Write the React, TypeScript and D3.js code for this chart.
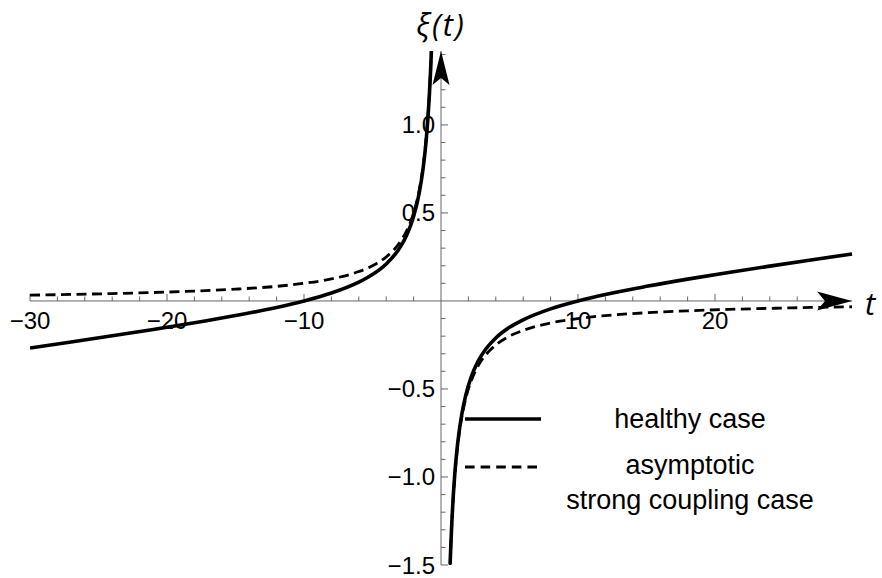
import React, { useEffect, useRef } from "react";
import * as d3 from "d3";

// values
const leftT = [-30, -27, -24, -21, -18, -15, -12, -10, -8, -6, -5, -4, -3, -2.5, -2, -1.6, -1.3, -1.1, -0.95, -0.85, -0.77, -0.7];
const rightT = [0.667, 0.72, 0.8, 0.9, 1.0, 1.15, 1.3, 1.5, 1.8, 2.2, 2.7, 3.3, 4, 5, 6, 8, 10, 12, 15, 18, 21, 24, 27, 30];

const healthyLeft = [-0.267, -0.233, -0.198, -0.162, -0.124, -0.083, -0.037, 0, 0.045, 0.107, 0.15, 0.21, 0.303, 0.375, 0.48, 0.609, 0.756, 0.898, 1.043, 1.168, 1.291, 1.422];
const healthyRight = [-1.493, -1.382, -1.242, -1.102, -0.99, -0.858, -0.756, -0.652, -0.538, -0.433, -0.343, -0.27, -0.21, -0.15, -0.107, -0.045, 0, 0.037, 0.083, 0.124, 0.162, 0.198, 0.233, 0.267];

const asympLeft = [0.033, 0.037, 0.042, 0.048, 0.056, 0.067, 0.083, 0.1, 0.125, 0.167, 0.2, 0.25, 0.333, 0.4, 0.5, 0.625, 0.769, 0.909, 1.053, 1.176, 1.299, 1.429];
const asympRight = [-1.5, -1.389, -1.25, -1.111, -1.0, -0.87, -0.769, -0.667, -0.556, -0.455, -0.37, -0.303, -0.25, -0.2, -0.167, -0.125, -0.1, -0.083, -0.067, -0.056, -0.048, -0.042, -0.037, -0.033];

const xMajor = [-30, -20, -10, 10, 20];
const yMajor = [-1.5, -1.0, -0.5, 0.5, 1.0];
const yLabels = ["\u22121.5", "\u22121.0", "\u22120.5", "0.5", "1.0"];
const legendLabels = ["healthy case", "asymptotic", "strong coupling case"];

function App() {
  const ref = useRef<SVGSVGElement>(null);

  useEffect(() => {
    const svg = d3.select(ref.current);
    svg.selectAll("*").remove();

    const x = d3.scaleLinear().domain([-30, 30]).range([30, 852]);
    const y = d3.scaleLinear().domain([-1.5, 1.42]).range([565, 51]);
    const font = "'Liberation Sans', Arial, sans-serif";
    const axisColor = "#666";

    svg.append("defs").append("clipPath").attr("id", "plotclip")
      .append("rect")
      .attr("x", x(-30)).attr("y", y(1.42))
      .attr("width", x(30.3) - x(-30)).attr("height", y(-1.5) - y(1.42));

    // axes
    const ax = svg.append("g");
    ax.append("line")
      .attr("x1", x(-30)).attr("x2", x(30)).attr("y1", y(0)).attr("y2", y(0))
      .attr("stroke", axisColor);
    ax.append("line")
      .attr("x1", x(0)).attr("x2", x(0)).attr("y1", y(-1.5)).attr("y2", y(1.42))
      .attr("stroke", axisColor);

    // x ticks (every 2, labelled every 10)
    const xMinor = d3.range(-30, 30, 2).filter((v) => v !== 0);
    ax.selectAll("line.xt").data(xMinor).enter().append("line")
      .attr("x1", (d) => x(d)).attr("x2", (d) => x(d))
      .attr("y1", y(0))
      .attr("y2", (d) => y(0) - (xMajor.includes(d) ? 7 : 4.5))
      .attr("stroke", axisColor);
    ax.selectAll("text.xl").data(xMajor).enter().append("text")
      .attr("x", (d) => x(d)).attr("y", y(0) + 28)
      .attr("text-anchor", "middle")
      .attr("font-family", font).attr("font-size", 24)
      .text((d) => (d < 0 ? "\u2212" + Math.abs(d) : String(d)));

    // y ticks (every 0.1)
    const yMinor = d3.range(-15, 15).filter((v) => v !== 0).map((v) => v / 10);
    ax.selectAll("line.yt").data(yMinor).enter().append("line")
      .attr("x1", x(0))
      .attr("x2", (d) => x(0) + (Math.abs(d * 2 - Math.round(d * 2)) < 1e-6 ? 7 : 4.5))
      .attr("y1", (d) => y(d)).attr("y2", (d) => y(d))
      .attr("stroke", axisColor);
    ax.selectAll("text.yl").data(yMajor).enter().append("text")
      .attr("x", x(0) - 6).attr("y", (d) => y(d) + 8.5)
      .attr("text-anchor", "end")
      .attr("font-family", font).attr("font-size", 24)
      .text((d, i) => yLabels[i]);

    // curves
    const line = d3.line<[number, number]>()
      .x((d) => x(d[0])).y((d) => y(d[1]))
      .curve(d3.curveMonotoneX);
    const plot = svg.append("g").attr("clip-path", "url(#plotclip)");
    const series = [
      { t: leftT, v: healthyLeft, dash: null, w: 3.6 },
      { t: rightT, v: healthyRight, dash: null, w: 3.6 },
      { t: leftT, v: asympLeft, dash: "10,5.5", w: 2.8 },
      { t: rightT, v: asympRight, dash: "10,5.5", w: 2.8 },
    ];
    series.forEach((s) => {
      plot.append("path")
        .attr("d", line(s.t.map((t, i) => [t, s.v[i]] as [number, number])))
        .attr("fill", "none").attr("stroke", "#000")
        .attr("stroke-width", s.w)
        .attr("stroke-dasharray", s.dash);
    });

    // arrowheads
    const xt = x(30), yt = y(0);
    svg.append("path")
      .attr("d", `M${xt},${yt} L${xt - 35},${yt - 9.5} L${xt - 27},${yt} L${xt - 35},${yt + 9.5} Z`)
      .attr("fill", "#000");
    const ax0 = x(0), ay = y(1.42);
    svg.append("path")
      .attr("d", `M${ax0},${ay} L${ax0 - 8.5},${ay + 34} L${ax0},${ay + 27} L${ax0 + 8.5},${ay + 34} Z`)
      .attr("fill", "#000");

    // axis labels
    svg.append("text")
      .attr("x", x(0)).attr("y", 36)
      .attr("text-anchor", "middle")
      .attr("font-family", "'Open Sans', 'DejaVu Sans', sans-serif")
      .attr("font-style", "italic").attr("font-size", 31)
      .attr("letter-spacing", 2)
      .text("\u03BE(t)");
    svg.append("text")
      .attr("x", 865).attr("y", 315)
      .attr("font-family", "'Open Sans', 'DejaVu Sans', sans-serif")
      .attr("font-style", "italic").attr("font-size", 31)
      .text("t");

    // legend
    const lg = svg.append("g");
    lg.append("line")
      .attr("x1", 465).attr("x2", 541).attr("y1", 419).attr("y2", 419)
      .attr("stroke", "#000").attr("stroke-width", 3.6);
    lg.append("line")
      .attr("x1", 465).attr("x2", 537).attr("y1", 467).attr("y2", 467)
      .attr("stroke", "#000").attr("stroke-width", 2.8)
      .attr("stroke-dasharray", "9.6,6");
    const lgY = [428, 474, 509];
    lg.selectAll("text").data(legendLabels).enter().append("text")
      .attr("x", 690).attr("y", (d, i) => lgY[i])
      .attr("text-anchor", "middle")
      .attr("font-family", font).attr("font-size", 27)
      .text((d) => d);
  }, []);

  return (
    <svg ref={ref} width={882} height={578}
      style={{ position: "absolute", left: 0, top: 0, background: "#fff" }} />
  );
}

export default App;
